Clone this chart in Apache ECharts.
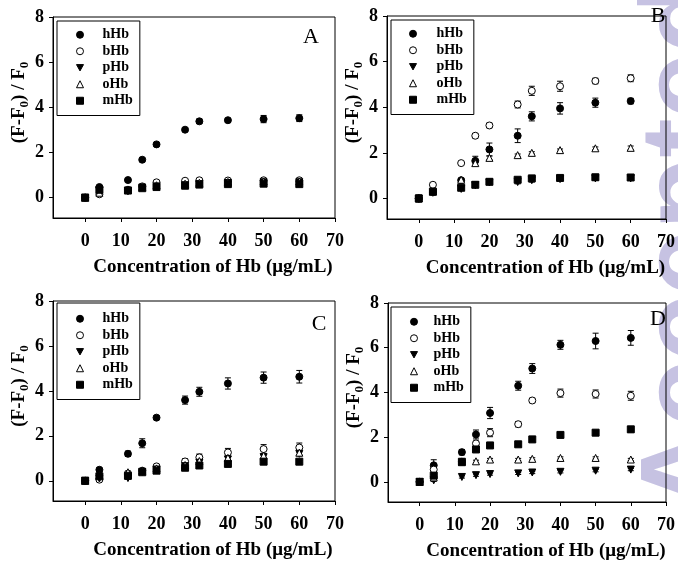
<!DOCTYPE html>
<html>
<head>
<meta charset="utf-8">
<script src="https://cdn.jsdelivr.net/npm/echarts@6/dist/echarts.min.js"></script>
<style>
  html, body { margin: 0; padding: 0; background: #fff; }
  #chart { width: 678px; height: 562px; }
</style>
</head>
<body>
<div id="chart"></div>
<script>
// Hb concentrations (µg/mL)
const xs = [0, 4, 12, 16, 20, 28, 32, 40, 50, 60];
const seriesNames = ['hHb', 'bHb', 'pHb', 'oHb', 'mHb'];
const xTicks = [0, 10, 20, 30, 40, 50, 60, 70];
const yTicks = [0, 2, 4, 6, 8];

// Panel A
const aH  = [0, 0.47, 0.78, 1.68, 2.36, 3.01, 3.38, 3.43, 3.48, 3.52];
const aHe = [0.04, 0.06, 0.05, 0.07, 0.07, 0.07, 0.1, 0.08, 0.16, 0.15];
const aB  = [0, 0.15, 0.35, 0.5, 0.68, 0.75, 0.77, 0.76, 0.77, 0.77];
const aBe = [0.03, 0.04, 0.04, 0.04, 0.04, 0.04, 0.05, 0.05, 0.05, 0.05];
const aP  = [0, 0.3, 0.28, 0.45, 0.5, 0.55, 0.6, 0.65, 0.68, 0.68];
const aPe = [0.03, 0.04, 0.04, 0.04, 0.04, 0.04, 0.04, 0.04, 0.05, 0.05];
const aO  = [0, 0.22, 0.33, 0.48, 0.55, 0.62, 0.66, 0.7, 0.72, 0.72];
const aOe = [0.03, 0.04, 0.04, 0.04, 0.04, 0.04, 0.04, 0.04, 0.05, 0.05];
const aM  = [0, 0.35, 0.32, 0.42, 0.47, 0.53, 0.58, 0.6, 0.62, 0.6];
const aMe = [0.03, 0.04, 0.04, 0.04, 0.04, 0.04, 0.04, 0.04, 0.05, 0.05];

// Panel B
const bH  = [0, 0.28, 0.8, 1.65, 2.15, 2.75, 3.6, 3.95, 4.2, 4.27];
const bHe = [0.15, 0.1, 0.08, 0.2, 0.28, 0.3, 0.2, 0.25, 0.2, 0.12];
const bB  = [0, 0.6, 1.55, 2.75, 3.2, 4.12, 4.72, 4.92, 5.15, 5.27];
const bBe = [0.05, 0.1, 0.05, 0.1, 0.1, 0.15, 0.2, 0.22, 0.12, 0.15];
const bP  = [0, 0.25, 0.42, 0.58, 0.7, 0.72, 0.8, 0.85, 0.88, 0.88];
const bPe = [0.03, 0.05, 0.05, 0.05, 0.06, 0.08, 0.08, 0.08, 0.08, 0.08];
const bO  = [0, 0.3, 0.82, 1.55, 1.78, 1.9, 2.0, 2.12, 2.2, 2.22];
const bOe = [0.03, 0.05, 0.05, 0.1, 0.08, 0.05, 0.05, 0.05, 0.06, 0.08];
const bM  = [0, 0.3, 0.47, 0.6, 0.73, 0.82, 0.88, 0.9, 0.93, 0.92];
const bMe = [0.03, 0.05, 0.05, 0.05, 0.06, 0.08, 0.08, 0.08, 0.08, 0.08];

// Panel C
const cH  = [0, 0.49, 1.2, 1.67, 2.81, 3.59, 3.96, 4.33, 4.59, 4.63];
const cHe = [0.03, 0.08, 0.12, 0.2, 0.08, 0.18, 0.2, 0.25, 0.25, 0.28];
const cB  = [0, 0.05, 0.32, 0.45, 0.64, 0.86, 1.04, 1.26, 1.41, 1.48];
const cBe = [0.03, 0.05, 0.05, 0.05, 0.05, 0.12, 0.15, 0.18, 0.2, 0.2];
const cP  = [0, 0.1, 0.12, 0.4, 0.5, 0.65, 0.8, 0.95, 1.05, 1.2];
const cPe = [0.03, 0.05, 0.05, 0.05, 0.05, 0.08, 0.1, 0.1, 0.1, 0.1];
const cO  = [0, 0.25, 0.38, 0.45, 0.55, 0.7, 0.88, 1.02, 1.12, 1.25];
const cOe = [0.03, 0.05, 0.05, 0.05, 0.05, 0.08, 0.1, 0.1, 0.1, 0.1];
const cM  = [0, 0.2, 0.22, 0.38, 0.45, 0.58, 0.68, 0.75, 0.85, 0.85];
const cMe = [0.03, 0.05, 0.05, 0.05, 0.05, 0.05, 0.05, 0.05, 0.05, 0.05];

// Panel D
const dH  = [0, 0.74, 1.33, 2.12, 3.08, 4.3, 5.07, 6.13, 6.3, 6.44];
const dHe = [0.05, 0.25, 0.12, 0.2, 0.25, 0.2, 0.22, 0.2, 0.35, 0.33];
const dB  = [0, 0.55, 0.9, 1.72, 2.2, 2.58, 3.64, 3.97, 3.93, 3.85];
const dBe = [0.05, 0.1, 0.1, 0.1, 0.18, 0.12, 0.1, 0.18, 0.18, 0.2];
const dP  = [0, 0.07, 0.22, 0.3, 0.35, 0.38, 0.42, 0.45, 0.5, 0.55];
const dPe = [0.03, 0.05, 0.05, 0.05, 0.05, 0.05, 0.05, 0.05, 0.05, 0.05];
const dO  = [0, 0.2, 0.88, 0.92, 1.0, 1.0, 1.03, 1.07, 1.07, 1.0];
const dOe = [0.03, 0.05, 0.05, 0.05, 0.05, 0.05, 0.05, 0.05, 0.05, 0.05];
const dM  = [0, 0.28, 0.9, 1.45, 1.63, 1.68, 1.9, 2.1, 2.2, 2.35];
const dMe = [0.03, 0.05, 0.08, 0.08, 0.08, 0.08, 0.1, 0.1, 0.1, 0.12];

const panels = [
  [[aH, aHe], [aB, aBe], [aP, aPe], [aO, aOe], [aM, aMe]],
  [[bH, bHe], [bB, bBe], [bP, bPe], [bO, bOe], [bM, bMe]],
  [[cH, cHe], [cB, cBe], [cP, cPe], [cO, cOe], [cM, cMe]],
  [[dH, dHe], [dB, dBe], [dP, dPe], [dO, dOe], [dM, dMe]]
];
const panelLetters = ['A', 'B', 'C', 'D'];

const serif = '"Liberation Serif", "Times New Roman", serif';

// marker look per series
const markers = [
  { symbol: 'circle', rotate: 0, fill: '#000' },
  { symbol: 'circle', rotate: 0, fill: '#fff' },
  { symbol: 'triangle', rotate: 180, fill: '#000' },
  { symbol: 'triangle', rotate: 0, fill: '#fff' },
  { symbol: 'rect', rotate: 0, fill: '#000' }
];
// legend icon for the downward triangle
const downTri = 'path://M0,0 L10,0 L5,9 Z';

const grids = [
  { left: 53, top: 17, width: 282, height: 201 },
  { left: 387, top: 16, width: 282, height: 203 },
  { left: 53, top: 301, width: 282, height: 200 },
  { left: 388, top: 303, width: 280, height: 200 }
];

const legends = [
  { left: 57, top: 21, padding: [6, 7, 7, 19], textPad: 14 },
  { left: 391, top: 20, padding: [6, 7, 7, 18], textPad: 15 },
  { left: 57, top: 303, padding: [8, 7, 7, 19], textPad: 14 },
  { left: 391, top: 307, padding: [7, 7, 7, 19], textPad: 11 }
];

const letterPos = [[311, 37], [658, 16], [319, 324], [658, 319]];

const errorBar = (params, api) => {
  const x = api.value(0);
  const top = api.coord([x, api.value(2)]);
  const bot = api.coord([x, api.value(1)]);
  const w = 3;
  const st = { stroke: '#000', lineWidth: 1 };
  return {
    type: 'group',
    children: [
      { type: 'line', shape: { x1: top[0], y1: top[1], x2: bot[0], y2: bot[1] }, style: st },
      { type: 'line', shape: { x1: top[0] - w, y1: top[1], x2: top[0] + w, y2: top[1] }, style: st },
      { type: 'line', shape: { x1: bot[0] - w, y1: bot[1], x2: bot[0] + w, y2: bot[1] }, style: st }
    ]
  };
};

const xAxes = [], yAxes = [], series = [], legendOpts = [], graphics = [];

grids.forEach((g, k) => {
  xAxes.push({
    gridIndex: k, type: 'value', min: -9, max: 70,
    axisLine: { onZero: false, lineStyle: { color: '#000', width: 1 } },
    axisTick: { customValues: xTicks, length: 4, lineStyle: { color: '#000' } },
    axisLabel: { customValues: xTicks, margin: 14, color: '#000', fontFamily: serif, fontWeight: 'bold', fontSize: 18 },
    splitLine: { show: false },
    name: 'Concentration of Hb (\u03bcg/mL)',
    nameLocation: 'middle', nameGap: 40,
    nameTextStyle: { color: '#000', fontFamily: serif, fontWeight: 'bold', fontSize: 19, padding: [0, 0, 0, 38] }
  });
  yAxes.push({
    gridIndex: k, type: 'value', min: -0.9, max: 8,
    axisLine: { onZero: false, lineStyle: { color: '#000', width: 1 } },
    axisTick: { customValues: yTicks, length: 4, lineStyle: { color: '#000' } },
    axisLabel: { customValues: yTicks, margin: 9, color: '#000', fontFamily: serif, fontWeight: 'bold', fontSize: 18 },
    splitLine: { show: false },
    name: '(F-F{s|0}) / F{s|0}',
    nameLocation: 'middle', nameGap: 20,
    nameTextStyle: {
      color: '#000', fontFamily: serif, fontWeight: 'bold', fontSize: 19, padding: [0, 0, 0, 30],
      rich: { s: { fontFamily: serif, fontWeight: 'bold', fontSize: 13, padding: [12, 0, 0, 0] } }
    }
  });

  panels[k].forEach(([vals, errs], j) => {
    const m = markers[j];
    series.push({
      type: 'custom', name: seriesNames[j] + ' err', xAxisIndex: k, yAxisIndex: k,
      renderItem: errorBar, z: 1, silent: true,
      data: xs.map((x, i) => [x, vals[i] - errs[i], vals[i] + errs[i]])
    });
    series.push({
      type: 'scatter', name: seriesNames[j], xAxisIndex: k, yAxisIndex: k,
      symbol: m.symbol, symbolRotate: m.rotate, symbolSize: 7, z: 3,
      itemStyle: { color: m.fill, borderColor: '#000', borderWidth: 1, opacity: 1 },
      data: xs.map((x, i) => [x, vals[i]])
    });
  });

  const L = legends[k];
  legendOpts.push({
    data: seriesNames.map(n => (n === 'pHb' ? { name: n, icon: downTri } : { name: n })),
    orient: 'vertical', left: L.left, top: L.top, padding: L.padding,
    itemWidth: 7, itemHeight: 7, itemGap: 1, selectedMode: false,
    borderColor: '#000', borderWidth: 1, backgroundColor: '#fff',
    itemStyle: { borderWidth: 1, borderColor: '#000' },
    textStyle: { color: '#000', fontFamily: serif, fontWeight: 'bold', fontSize: 14, lineHeight: 15.5, padding: [0, 0, 0, L.textPad] }
  });

  graphics.push({
    type: 'text', x: letterPos[k][0], y: letterPos[k][1], z: 10,
    style: { text: panelLetters[k], font: '22px ' + serif, fill: '#000', align: 'center', verticalAlign: 'middle' }
  });
});

// faint "Accepted" watermark along the right edge
graphics.push({
  type: 'text', x: 690, y: 512, rotation: Math.PI / 2, z: -10,
  style: { text: 'Accepted', font: 'bold 118px "Liberation Sans", Arial, sans-serif', fill: '#c6c2e2', align: 'left', verticalAlign: 'middle' }
});

const chart = echarts.init(document.getElementById('chart'), null, { renderer: 'canvas' });
chart.setOption({
  backgroundColor: '#fff',
  animation: false,
  grid: grids.map(g => Object.assign({ show: true, borderColor: '#000', borderWidth: 1, backgroundColor: 'transparent' }, g)),
  xAxis: xAxes,
  yAxis: yAxes,
  legend: legendOpts,
  graphic: graphics,
  series: series
});
</script>
</body>
</html>
